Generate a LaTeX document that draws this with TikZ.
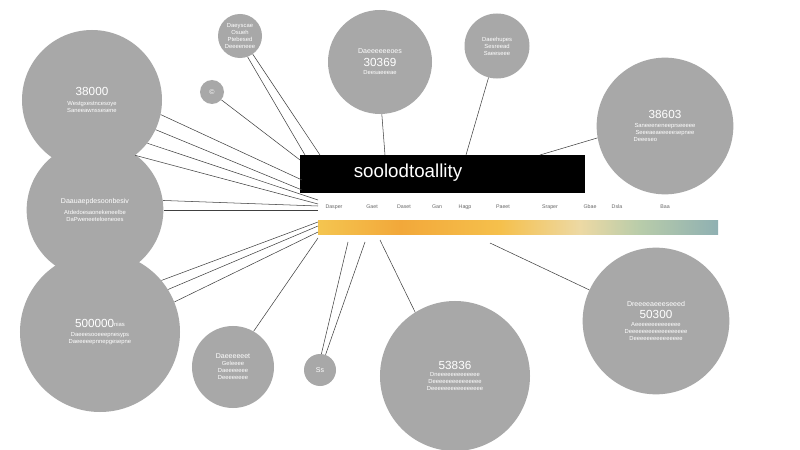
\documentclass[tikz,border=0pt]{standalone}
\usepackage{fontspec}
\setmainfont{Liberation Sans}
\definecolor{bubblegray}{HTML}{A8A8A8}
\definecolor{barA}{HTML}{F4C550}
\definecolor{barB}{HTML}{F2A83A}
\definecolor{barC}{HTML}{F5C04C}
\definecolor{barD}{HTML}{EDD9A4}
\definecolor{barE}{HTML}{B8CCAA}
\definecolor{barF}{HTML}{8FB0B2}
\newcommand{\numfont}{\fontsize{10}{12}\selectfont}
\newcommand{\headfont}{\fontsize{6}{7}\selectfont}
\tikzset{
  bubble/.style={circle,fill=bubblegray,inner sep=0pt,text=white,align=center,font=\fontsize{5}{6}\selectfont},
  spoke/.style={draw=black!75,line width=0.45pt},
  tick/.style={font=\fontsize{4.5}{5}\selectfont,text=black!60,inner sep=0pt}
}
\begin{document}
\begin{tikzpicture}[x=0.03cm,y=-0.03cm]
\useasboundingbox[fill=white] (0,0) rectangle (800,450);

% title box and scale
\node[fill=black,minimum width=8.55cm,minimum height=1.14cm,inner sep=0pt] (title) at (442.5,174) {};
\node[text=white,font=\fontsize{16}{19}\selectfont] (titletext) at (408,173) {soolodtoallity};
\shade[left color=barA,right color=barB] (318,220) rectangle (400,234);
\shade[left color=barB,right color=barC] (400,220) rectangle (500,234);
\shade[left color=barC,right color=barD] (500,220) rectangle (580,234);
\shade[left color=barD,right color=barE] (580,220) rectangle (640,234);
\shade[left color=barE,right color=barF] (640,220) rectangle (718,234);
\foreach \x/\t [count=\i] in {334/Dasper,372/Gaet,404/Daset,437/Gan,465/Hagp,503/Paeet,550/Sraper,590/Gbae,617/Dsla,665/Baa}
  \node[tick] (tick\i) at (\x,207) {\t};

% bubbles
\node[bubble,minimum size=4.2cm] (ulbig) at (92,100) {{\numfont 38000}\\[2pt]Westgxestncesoye\\Saneeawnssesene};
\node[bubble,minimum size=4.1cm] (lmid) at (95,210) {{\headfont Daauaepdesoonbesiv}\\[4pt]Atdedoesaonekeneelbe\\DaPweneeteloeneoes};
\node[bubble,minimum size=4.8cm] (llbig) at (100,332) {{\numfont 500000}\raisebox{1pt}{nias}\\[2pt]Daeeesooeeepnesyps\\Daeeeeepnnepgesepne};
\node[bubble,minimum size=1.32cm] (topsm) at (240,36) {Daeyscae\\Osueh\\Ptebesed\\Deeeeneee};
\node[bubble,minimum size=0.72cm] (dot) at (212,92) {{\headfont ©}};
\node[bubble,minimum size=3.12cm] (topmid) at (380,62) {{\headfont Daeeeeeeoes}\\[3pt]{\numfont 30369}\\[1pt]Deesaeeeae};
\node[bubble,minimum size=1.95cm] (topr) at (497,46) {Daeehupes\\Sesreead\\Saeeseee};
\node[bubble,minimum size=4.1cm] (rup) at (665,126) {{\numfont 38603}\\[2pt]Saneeeneneeprseeeee\\Seeeaeaeeeeesepnee\\Deeeseo\phantom{eeeeeeeeeeee}};
\node[bubble,minimum size=4.4cm] (rlow) at (656,321) {{\headfont Dreeeeaeeeseeed}\\[2pt]{\numfont 50300}\\[1pt]Aeeeeeeeeeeeeee\\Deeeeeeeeeeeeeeeeee\\Deeeeeeeeeeeeeee};
\node[bubble,minimum size=4.5cm] (botmid) at (455,376) {{\numfont 53836}\\Dneeeeeeeeeeeee\\Deeeeeeeeeeeeeee\\Deeeeeeeeeeeeeeee};
\node[bubble,minimum size=2.46cm] (botl) at (233,367) {{\headfont Daeeeeeet}\\Geleeee\\Daeeeeeee\\Deeeeeeee};
\node[bubble,minimum size=0.96cm] (botsm) at (320,370) {{\headfont Ss}};

% spokes to the box and the bar
\coordinate (hubtl) at (300,160);
\coordinate (hubl) at (302,180);
\coordinate (hubbl) at (318,222);
\draw[spoke] (ulbig.-12) -- (hubl);
\draw[spoke] (ulbig.-25) -- (302,190);
\draw[spoke] (ulbig.-38) -- (318,200);
\draw[spoke] (ulbig.-52) -- (318,204);
\draw[spoke] (lmid.8) -- (318,206);
\draw[spoke] (lmid.0) -- (318,210);
\draw[spoke] (llbig.40) -- (hubbl);
\draw[spoke] (llbig.32) -- (318,226);
\draw[spoke] (llbig.22) -- (318,232);
\draw[spoke] (dot.-40) -- (hubtl);
\draw[spoke] (topsm.-70) -- (305,155);
\draw[spoke] (topsm.-55) -- (320,155);
\draw[spoke] (topmid.-88) -- (385,155);
\draw[spoke] (topr.-105) -- (466,155);
\draw[spoke] (rup.190) -- (540,155);
\draw[spoke] (rlow.155) -- (490,243);
\draw[spoke] (botmid.122) -- (380,240);
\draw[spoke] (botl.60) -- (318,238);
\draw[spoke] (botsm.85) -- (348,242);
\draw[spoke] (botsm.70) -- (365,242);
\end{tikzpicture}
\end{document}
